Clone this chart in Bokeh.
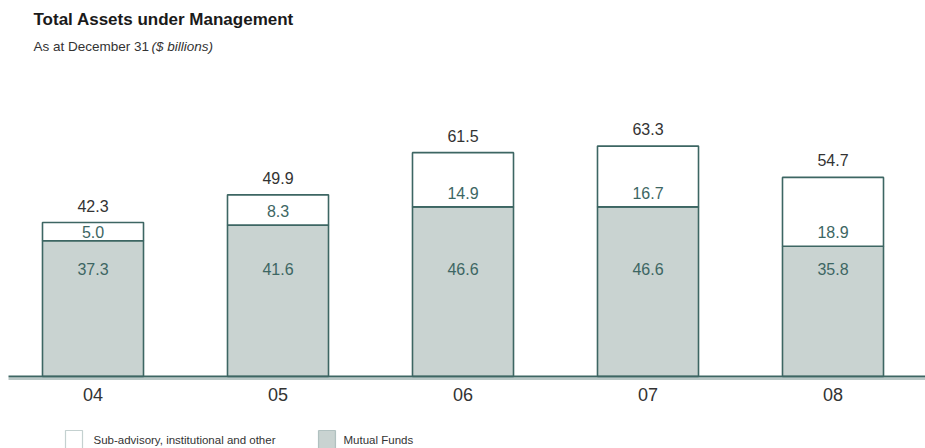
from bokeh.plotting import figure
from bokeh.models import ColumnDataSource, Range1d, Label, BoxAnnotation
from bokeh.core.properties import value
from bokeh.embed import file_html
from bokeh.resources import INLINE

years = ["04", "05", "06", "07", "08"]
mutual_funds = [37.3, 41.6, 46.6, 46.6, 35.8]
sub_advisory = [5.0, 8.3, 14.9, 16.7, 18.9]
totals = [42.3, 49.9, 61.5, 63.3, 54.7]

OUT = "#3d6663"
FILL = "#c9d3d1"
FONT = "Liberation Sans"

W, H = 925, 448
BASE_PX = 376          # pixel row of the zero line (from top)
PX_PER_UNIT = 3.64
y_top = BASE_PX / PX_PER_UNIT
y_bot = -(H - BASE_PX) / PX_PER_UNIT

p = figure(width=W, height=H, x_range=years, y_range=Range1d(y_bot, y_top),
           output_backend="svg", toolbar_location=None,
           x_axis_location=None, y_axis_location=None,
           min_border=0, outline_line_color=None)
p.xgrid.visible = False
p.ygrid.visible = False
p.background_fill_color = "white"
p.border_fill_color = "white"

sub_lab_y = [m + min(s / 2.0, 3.8) for m, s in zip(mutual_funds, sub_advisory)]
src = ColumnDataSource(dict(
    year=years, mf=mutual_funds, sub=sub_advisory, tot=totals,
    zero=[0] * len(years),
    tot_lab=[f"{t:.1f}" for t in totals],
    mf_lab=[f"{m:.1f}" for m in mutual_funds],
    sub_lab=[f"{s:.1f}" for s in sub_advisory],
    sub_lab_y=sub_lab_y,
    mf_lab_y=[29.4] * len(years),
    tick_y=[0] * len(years),
))

BW = 0.546
p.vbar(x="year", bottom="zero", top="mf", width=BW, source=src,
       fill_color=FILL, line_color=OUT, line_width=1.6)
p.vbar(x="year", bottom="mf", top="tot", width=BW, source=src,
       fill_color="white", line_color=OUT, line_width=1.6)

# baseline (double rule)
x0 = 8 / (W / len(years))
p.line(x=[x0, len(years)], y=[0, 0], line_color=OUT, line_width=2)
p.line(x=[x0, len(years)], y=[-2.5 / PX_PER_UNIT] * 2, line_color="#a3b5b3",
       line_width=1.5)

# value labels
p.text(x="year", y="tot", text="tot_lab", source=src, y_offset=-11,
       text_align="center", text_baseline="bottom", text_color="#333333",
       text_font=value(FONT), text_font_size="16px")
p.text(x="year", y="sub_lab_y", text="sub_lab", source=src,
       text_align="center", text_baseline="middle", text_color=OUT,
       text_font=value(FONT), text_font_size="16px")
p.text(x="year", y="mf_lab_y", text="mf_lab", source=src,
       text_align="center", text_baseline="middle", text_color=OUT,
       text_font=value(FONT), text_font_size="16px")

# category labels
p.text(x="year", y="tick_y", text="year", source=src, y_offset=18,
       text_align="center", text_baseline="middle", text_color="#333333",
       text_font=value(FONT), text_font_size="18px")

# title & subtitle (screen units, y from bottom)
p.add_layout(Label(x=33, y=H - 19, x_units="screen", y_units="screen",
                   text="Total Assets under Management", text_font=FONT,
                   text_font_style="bold", text_font_size="17px",
                   text_color="#1a1a1a", text_baseline="middle"))
p.add_layout(Label(x=33, y=H - 46, x_units="screen", y_units="screen",
                   text="As at December 31", text_font=FONT,
                   text_font_size="13.5px", text_color="#333333",
                   text_baseline="middle"))
p.add_layout(Label(x=151, y=H - 46, x_units="screen", y_units="screen",
                   text="($ billions)", text_font=FONT, text_font_style="italic",
                   text_font_size="13.5px", text_color="#333333",
                   text_baseline="middle"))

# legend
p.add_layout(BoxAnnotation(left=65, right=82, bottom=H - 448, top=H - 430,
                           left_units="screen", right_units="screen",
                           bottom_units="screen", top_units="screen",
                           fill_color="white", fill_alpha=1, line_color=OUT,
                           line_width=1.2))
p.add_layout(BoxAnnotation(left=318, right=335, bottom=H - 448, top=H - 430,
                           left_units="screen", right_units="screen",
                           bottom_units="screen", top_units="screen",
                           fill_color=FILL, fill_alpha=1, line_color=OUT,
                           line_width=1.2))
p.add_layout(Label(x=93, y=H - 439, x_units="screen", y_units="screen",
                   text="Sub-advisory, institutional and other", text_font=FONT,
                   text_font_size="11.5px", text_color="#333333",
                   text_baseline="middle"))
p.add_layout(Label(x=343, y=H - 439, x_units="screen", y_units="screen",
                   text="Mutual Funds", text_font=FONT,
                   text_font_size="11.5px", text_color="#333333",
                   text_baseline="middle"))

open("out.html", "w").write(file_html(p, INLINE))
